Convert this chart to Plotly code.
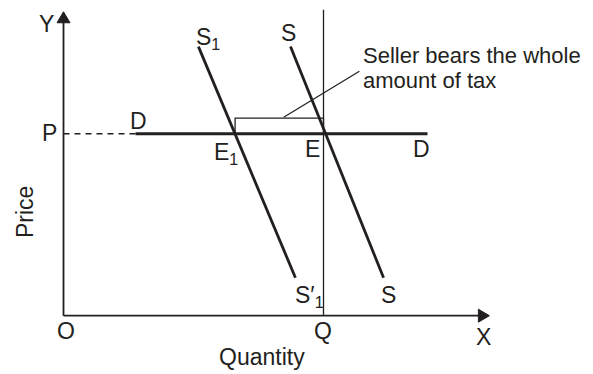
import plotly.graph_objects as go

# ---- data (economic units) ----
price_P = 7.0
quantity_Q = 10.0
demand_q = [2.77, 14.0]
demand_p = [7.0, 7.0]
supply_S_q = [8.73, 12.31]
supply_S_p = [10.35, 1.46]
supply_S1_q = [5.19, 8.92]
supply_S1_p = [10.35, 1.46]
E1_q = 6.6
E_q = 10.0
tax_top = 7.6
callout_q = [8.47, 11.38]
callout_p = [7.63, 9.40]
y_axis_top = 11.69
x_axis_end = 16.38
q_line_top = 11.77

INK = "#231f20"
FONT = "Liberation Sans, Arial, sans-serif"
FS = 23

# frame: 26 px per unit, origin at pixel (63.5, 315.7)
U = 26.0
ox, oy = 63.5, 315.7
W, H = 593, 374
xr = [-ox / U, (W - ox) / U]
yr = [-(H - oy) / U, oy / U]

fig = go.Figure()

def line(xs, ys, w, dash=None, color=INK):
    fig.add_trace(go.Scatter(x=xs, y=ys, mode="lines",
                             line=dict(color=color, width=w, dash=dash),
                             hoverinfo="skip", showlegend=False))

# axes
line([0, 0], [0, y_axis_top - 0.3], 1.8)
line([0, x_axis_end - 0.3], [0, 0], 1.8)
# arrowheads
ah_len, ah_w = 11 / U, 6.5 / U
fig.add_trace(go.Scatter(x=[0, -ah_w, ah_w, 0],
                         y=[y_axis_top, y_axis_top - ah_len, y_axis_top - ah_len, y_axis_top],
                         mode="lines", fill="toself", fillcolor=INK,
                         line=dict(color=INK, width=1), hoverinfo="skip", showlegend=False))
fig.add_trace(go.Scatter(x=[x_axis_end, x_axis_end - ah_len, x_axis_end - ah_len, x_axis_end],
                         y=[0, ah_w, -ah_w, 0],
                         mode="lines", fill="toself", fillcolor=INK,
                         line=dict(color=INK, width=1), hoverinfo="skip", showlegend=False))

# vertical Q line
line([quantity_Q, quantity_Q], [0, q_line_top], 1.3)
# dashed P line
line([0, demand_q[0]], [price_P, price_P], 1.4, dash="6px,5px")
# demand
line(demand_q, demand_p, 3)
# supply curves
line(supply_S1_q, supply_S1_p, 2.8)
line(supply_S_q, supply_S_p, 2.8)
# tax bracket
line([E1_q, E1_q, E_q, E_q], [price_P, tax_top, tax_top, price_P], 1.3)
# callout
line(callout_q, callout_p, 1.2)

def px2q(x):
    return (x - ox) / U

def px2p(y):
    return (oy - y) / U

def label(text, x, y, xanchor="center", yanchor="middle", angle=0, size=FS):
    fig.add_annotation(x=px2q(x), y=px2p(y), text=text, showarrow=False,
                       xanchor=xanchor, yanchor=yanchor, textangle=angle,
                       font=dict(family=FONT, size=size, color=INK))

label("Y", 46, 24)
label("P", 49, 133)
label("Price", 25, 212, angle=-90)
label("O", 66, 331)
label("Q", 323, 331)
label("X", 483, 337)
label("Quantity", 262, 357)
label("D", 138, 121)
label("D", 421, 149)
label("E<sub>1</sub>", 212, 153, xanchor="left")
label("E", 312, 149)
label("S<sub>1</sub>", 194, 38, xanchor="left")
label("S", 288, 33)
label("S′<sub>1</sub>", 293, 296, xanchor="left")
label("S", 388, 295)
label("Seller bears the whole", 361, 55.5, xanchor="left", size=22)
label("amount of tax", 361, 80.5, xanchor="left", size=22)

fig.update_layout(width=W, height=H, margin=dict(l=0, r=0, t=0, b=0),
                  paper_bgcolor="white", plot_bgcolor="white",
                  xaxis=dict(range=xr, visible=False, fixedrange=True),
                  yaxis=dict(range=yr, visible=False, fixedrange=True),
                  hovermode=False, showlegend=False)
fig.write_html("out.html", config={"displayModeBar": False},
               post_script="document.body.style.margin='0';document.body.style.overflow='hidden';")
